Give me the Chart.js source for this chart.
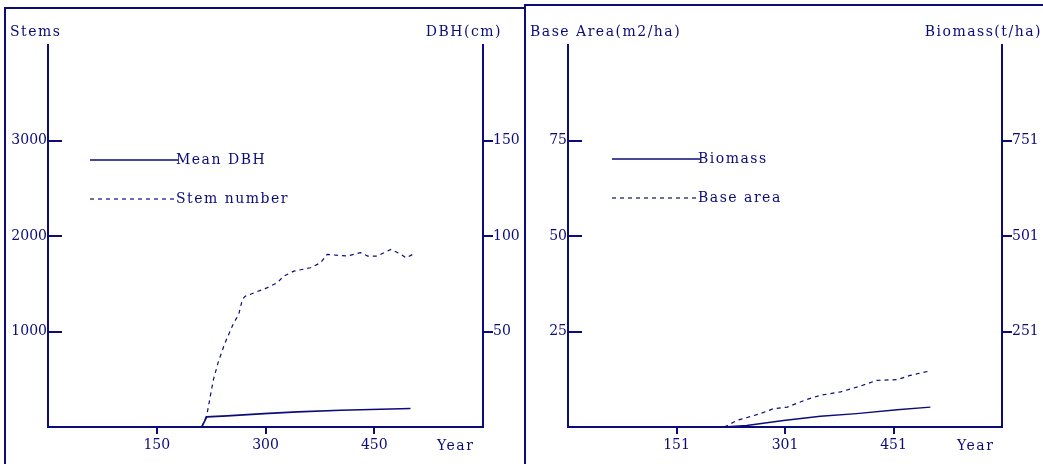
<!DOCTYPE html>
<html>
<head>
<meta charset="utf-8">
<script src="https://cdn.jsdelivr.net/npm/chart.js@4.4.1/dist/chart.umd.min.js"></script>
<style>
body { margin: 0; background: #fff; overflow: hidden; width: 1043px; height: 464px; position: relative; }
#box1 { position: absolute; left: 4px; top: 7px; width: 518px; height: 470px; border: 2px solid #0b0b7a; border-bottom: none; }
#box2 { position: absolute; left: 524px; top: 4px; width: 530px; height: 470px; border-top: 2px solid #0b0b7a; border-left: 2px solid #0b0b7a; }
canvas { position: absolute; top: 0; }
#c1 { left: 0; }
#c2 { left: 525px; }
</style>
</head>
<body>
<div id="box1"></div>
<div id="box2"></div>
<canvas id="c1" width="525" height="464"></canvas>
<canvas id="c2" width="518" height="464"></canvas>
<script>
var navy = '#0b0b7a';
var font = "'DejaVu Serif', serif";

// left panel: stem number and mean DBH
var dbhYears = [212, 219, 247, 298, 344, 404, 500];
var dbhValues = [0, 5.3, 5.8, 7.0, 7.9, 8.8, 9.7];
var stemYears = [212, 219, 228, 235, 244, 256, 263, 268, 272, 284, 302, 316, 325, 339, 362, 376, 385, 413, 431, 441, 454, 473, 487, 494, 503];
var stemValues = [0, 123, 491, 684, 878, 1088, 1176, 1334, 1369, 1404, 1457, 1509, 1579, 1632, 1667, 1720, 1807, 1790, 1825, 1790, 1790, 1860, 1807, 1772, 1807];
var yearTicks1 = [150, 300, 450];
var stemTicks = [1000, 2000, 3000];
var dbhTicks = [50, 100, 150];

// right panel: biomass and base area
var biomassYears = [216, 248, 299, 350, 400, 456, 502];
var biomassValues = [1, 5, 18, 29, 36, 46, 53];
var baseYears = [217, 235, 267, 285, 304, 331, 350, 378, 405, 428, 456, 474, 502];
var baseValues = [0, 1.75, 3.5, 4.8, 5.2, 7.2, 8.3, 9.2, 10.7, 12.2, 12.4, 13.5, 14.7];
var yearTicks2 = [151, 301, 451];
var baseTicks = [25, 50, 75];
var biomassTicks = [251, 501, 751];

function pts(xs, ys) {
    return xs.map(function (x, i) { return { x: x, y: ys[i] }; });
}

function fixTicks(list) {
    return function (scale) {
        scale.ticks = list.map(function (v) { return { value: v }; });
    };
}

// inner ticks on the left axis, axis titles, "Year" and the legend
var decor = {
    id: 'decor',
    afterDraw: function (chart, args, o) {
        var ctx = chart.ctx, area = chart.chartArea, y = chart.scales.y;
        ctx.save();
        ctx.strokeStyle = navy;
        ctx.fillStyle = navy;
        ctx.lineWidth = 2;
        y.ticks.forEach(function (t) {
            var py = Math.round(y.getPixelForValue(t.value));
            ctx.beginPath();
            ctx.moveTo(area.left, py);
            ctx.lineTo(area.left + 14, py);
            ctx.stroke();
        });
        ctx.font = '14px ' + font;
        ctx.letterSpacing = '1.5px';
        ctx.textBaseline = 'middle';
        ctx.textAlign = 'left';
        ctx.fillText(o.leftTitle, o.leftX, 32);
        ctx.fillText('Year', o.yearX, 446);
        ctx.textAlign = 'right';
        ctx.fillText(o.rightTitle, o.rightX, 32);
        ctx.textAlign = 'left';
        chart.data.datasets.forEach(function (ds, i) {
            var ly = o.legendY[i];
            ctx.lineWidth = ds.borderWidth;
            ctx.setLineDash(ds.borderDash || []);
            ctx.beginPath();
            ctx.moveTo(o.legendX, ly);
            ctx.lineTo(o.legendX + o.legendLen, ly);
            ctx.stroke();
            ctx.setLineDash([]);
            ctx.fillText(ds.label, o.legendX + o.legendLen - 2, ly);
        });
        ctx.restore();
    }
};

function tickFont(pad) {
    return {
        color: navy, font: { family: font, size: 14 }, padding: pad,
        maxRotation: 0, autoSkip: false,
        callback: function (v) { return String(v); }
    };
}

function makeScales(xMin, xMax, xTicks, yMax, yTicks, y2Min, y2Max, y2Ticks, leftW, rightW) {
    return {
        x: {
            type: 'linear', min: xMin, max: xMax,
            afterBuildTicks: fixTicks(xTicks),
            afterFit: function (s) { s.height = 37; },
            grid: { drawOnChartArea: false, color: navy, lineWidth: 2, tickLength: 7 },
            border: { color: navy, width: 2 },
            ticks: tickFont(3)
        },
        y: {
            position: 'left', min: 0, max: yMax,
            afterBuildTicks: fixTicks(yTicks),
            afterFit: function (s) { s.width = leftW; },
            grid: { drawOnChartArea: false, drawTicks: false, color: navy },
            border: { color: navy, width: 2 },
            ticks: tickFont(1)
        },
        y2: {
            position: 'right', min: y2Min, max: y2Max,
            afterBuildTicks: fixTicks(y2Ticks),
            afterFit: function (s) { s.width = rightW; },
            grid: { drawOnChartArea: false, color: navy, lineWidth: 2, tickLength: 10 },
            border: { color: navy, width: 2 },
            ticks: tickFont(0)
        }
    };
}

new Chart(document.getElementById('c1'), {
    type: 'line',
    data: {
        datasets: [
            { label: 'Mean DBH', data: pts(dbhYears, dbhValues), yAxisID: 'y2', borderColor: navy, borderWidth: 1.6, pointRadius: 0 },
            { label: 'Stem number', data: pts(stemYears, stemValues), yAxisID: 'y', borderColor: navy, borderWidth: 1.2, borderDash: [4, 4], pointRadius: 0 }
        ]
    },
    options: {
        responsive: false, animation: false, devicePixelRatio: 1,
        layout: { padding: { top: 45 } },
        plugins: {
            legend: { display: false }, tooltip: { enabled: false },
            decor: { leftTitle: 'Stems', leftX: 10, rightTitle: 'DBH(cm)', rightX: 502, yearX: 437, legendX: 90, legendLen: 88, legendY: [160, 199] }
        },
        scales: makeScales(0, 600, yearTicks1, 4000, stemTicks, 0, 200, dbhTicks, 48, 42)
    },
    plugins: [decor]
});

new Chart(document.getElementById('c2'), {
    type: 'line',
    data: {
        datasets: [
            { label: 'Biomass', data: pts(biomassYears, biomassValues), yAxisID: 'y2', borderColor: navy, borderWidth: 1.4, pointRadius: 0 },
            { label: 'Base area', data: pts(baseYears, baseValues), yAxisID: 'y', borderColor: navy, borderWidth: 1.2, borderDash: [4, 4], pointRadius: 0 }
        ]
    },
    options: {
        responsive: false, animation: false, devicePixelRatio: 1,
        layout: { padding: { top: 45 } },
        plugins: {
            legend: { display: false }, tooltip: { enabled: false },
            decor: { leftTitle: 'Base Area(m2/ha)', leftX: 5, rightTitle: 'Biomass(t/ha)', rightX: 517, yearX: 432, legendX: 87, legendLen: 88, legendY: [159, 198] }
        },
        scales: makeScales(1, 601, yearTicks2, 100, baseTicks, 1, 1001, biomassTicks, 43, 41)
    },
    plugins: [decor]
});
</script>
</body>
</html>
